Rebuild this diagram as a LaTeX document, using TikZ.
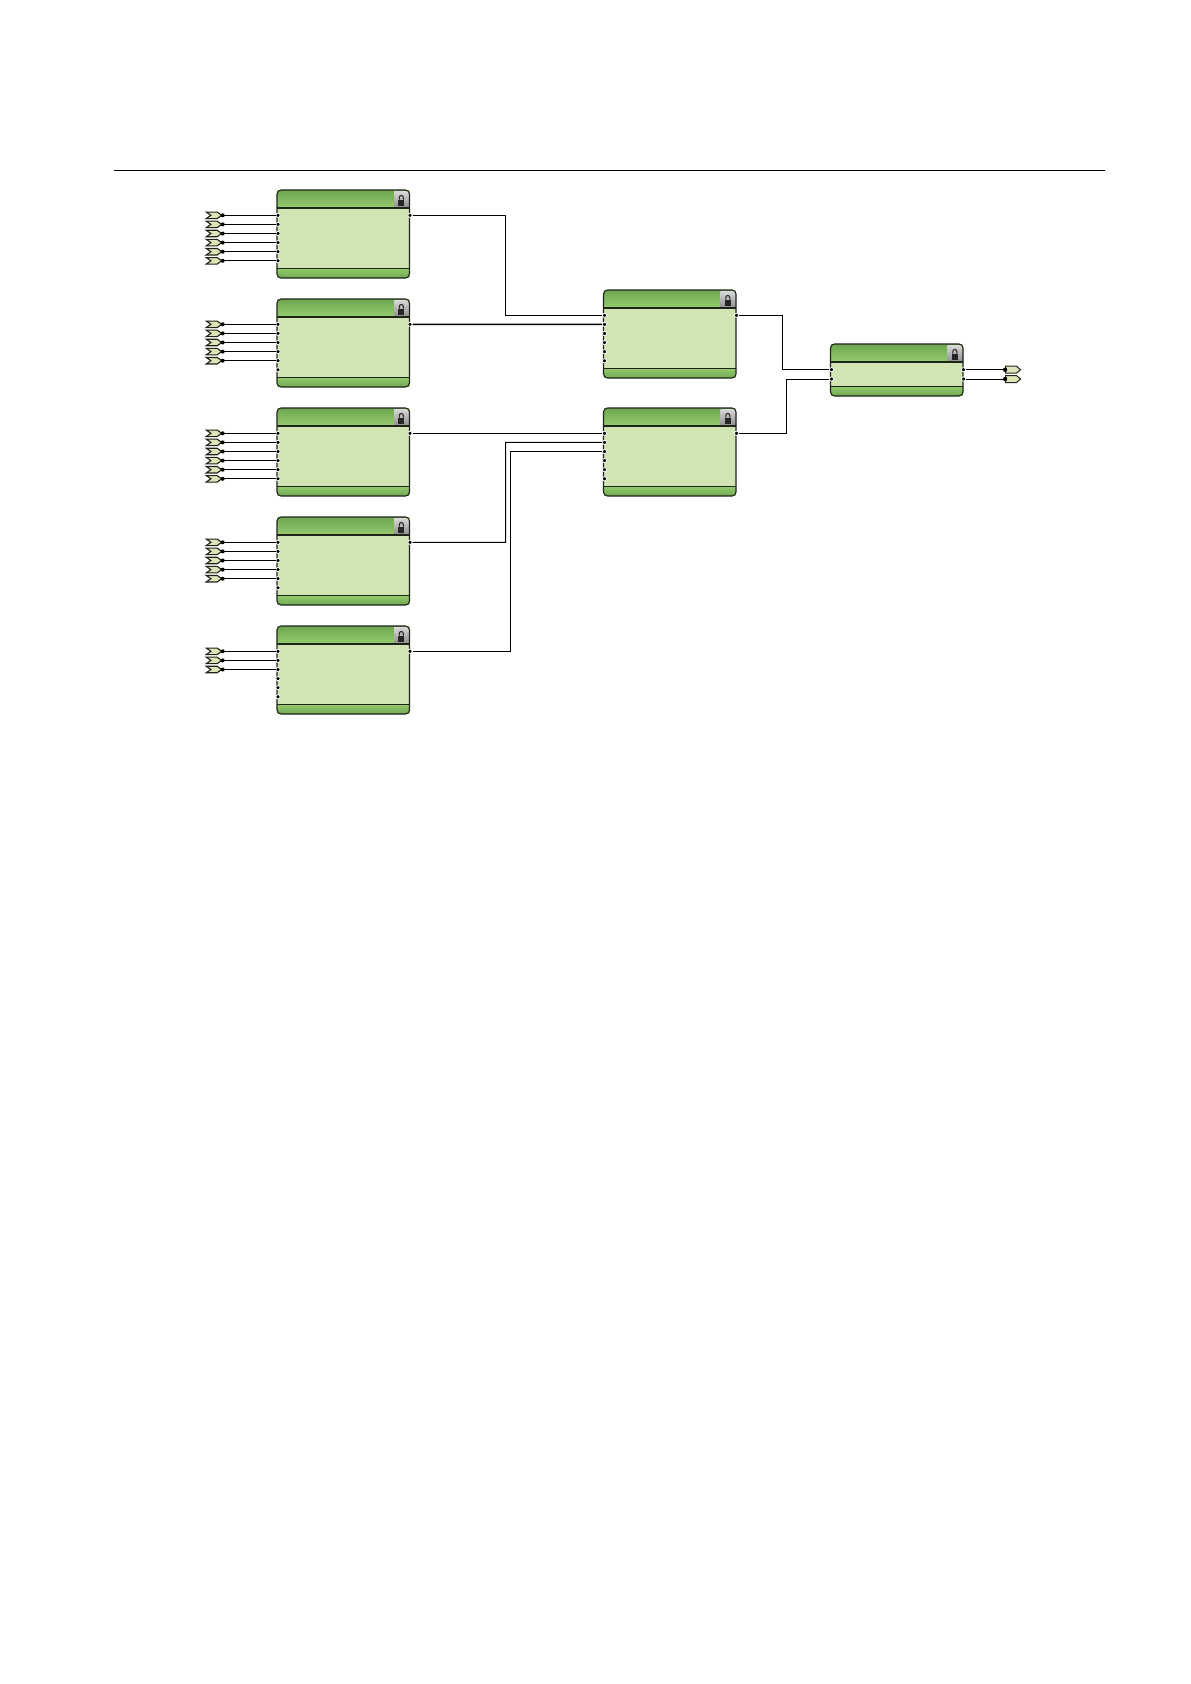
\documentclass[tikz,border=0pt]{standalone}
\usepackage{tikz}
\usetikzlibrary{shapes.symbols}
\definecolor{bodygreen}{HTML}{D0E4B4}
\definecolor{bargreen}{HTML}{96CC6E}
\definecolor{darkgreen}{HTML}{6BA450}
\definecolor{tagfill}{HTML}{DDE4B8}
\definecolor{edgedark}{HTML}{1E2418}
\tikzset{
  blockbox/.style={fill=bodygreen,minimum width=132.5pt,inner sep=0pt,outer sep=0pt,anchor=north west},
  blockedge/.style={draw=edgedark,line width=1.1pt,rounded corners=4pt},
  porthole/.style={circle,fill=black,draw=white,line width=0.8pt,minimum size=4.2pt,inner sep=0pt},
  intag/.style={signal,signal from=west,signal to=east,signal pointer angle=70,draw=edgedark,
    line width=1.1pt,fill=tagfill,minimum width=15.5pt,minimum height=6.5pt,inner sep=0pt},
  outtag/.style={signal,signal to=east,signal from=nowhere,signal pointer angle=80,draw=edgedark,
    line width=1pt,fill=tagfill,minimum width=15pt,minimum height=7pt,inner sep=0pt},
  wire/.style={line width=1pt,black},
  buswire/.style={line width=1.6pt,black}
}
\begin{document}
\begin{tikzpicture}[x=1pt,y=-1pt]
  \useasboundingbox (0,0) rectangle (1191,1684);
  \fill[white] (0,0) rectangle (1191,1684);
  \draw[line width=1pt] (114,170) -- (1105,170);
  % blocks: name, left, top, height
  \foreach \bname/\bx/\by/\bh in {ba/277/190/88,bb/277/299/88,bc/277/408/88,bd/277/517/88,be/277/626/88,
    ma/603.5/290/88,mb/603.5/408/88,ta/830.5/344/52}{
    \node[blockbox,minimum height=\bh pt] (\bname) at (\bx,\by) {};
    \begin{scope}
      \clip[rounded corners=4pt] (\bname.north west) rectangle (\bname.south east);
      \begin{scope}[shift={(\bx,\by)}]
        \shade[top color=darkgreen,bottom color=bargreen] (-1,-1) rectangle (134,18);
        \shade[top color=bargreen,bottom color=darkgreen] (-1,\bh-10) rectangle (134,\bh+1);
        \shade[top color=black!15,bottom color=black!45] (117,1) rectangle (134,18);
        \draw[line width=1.6pt,edgedark] (-1,18) -- (134,18);
        \draw[line width=0.9pt,edgedark] (-1,\bh-10) -- (134,\bh-10);
        \fill[black!85] (121.3,9.5) rectangle (127.3,15.5);
        \draw[black!85,line width=1.1pt] (122.3,9.5) -- (122.3,7.5)
          arc[start angle=180,end angle=0,x radius=2pt,y radius=2pt] -- (126.3,9.5);
      \end{scope}
    \end{scope}
    \draw[blockedge] (\bname.north west) rectangle (\bname.south east);
  }
  % ports
  \foreach \bname/\bx/\by in {ba/277/190,bb/277/299,bc/277/408,bd/277/517,be/277/626,ma/603.5/290,mb/603.5/408}{
    \foreach \i in {1,...,6}
      \node[porthole] (\bname-p\i) at (\bx+1,\by+25.3+9.1*\i-9.1) {};
    \node[porthole] (\bname-out) at (\bx+133,\by+25.3) {};
  }
  \node[porthole] (ta-p1) at (831.5,369.7) {};
  \node[porthole] (ta-p2) at (831.5,379) {};
  \node[porthole] (ta-o1) at (963.5,369.7) {};
  \node[porthole] (ta-o2) at (963.5,379) {};
  % input tags
  \foreach \bname/\by/\n/\m in {ba/190/6/0,bb/299/5/1,bc/408/6/1,bd/517/5/2,be/626/3/3}{
    \foreach \i in {1,...,\n}{
      \node[intag] (\bname-t\i) at (214,\by+25.3+9.1*\i-9.1) {};
      \ifnum\i>\m
        \draw[wire] (\bname-t\i.east) -- (\bname-p\i);
      \else
        \draw[buswire] (\bname-t\i.east) -- (\bname-p\i);
      \fi
      \fill (\bname-t\i.east) circle (2pt);
    }
  }
  % outputs
  \node[outtag] (out1) at (1011,369.7) {};
  \node[outtag] (out2) at (1011,379) {};
  \fill (out1.west) circle (2.2pt);
  \fill (out2.west) circle (2.2pt);
  \draw[wire] (ta-o1) -- (out1.west);
  \draw[wire] (ta-o2) -- (out2.west);
  % wires between blocks
  \draw[wire] (ba-out) -| (505.7,315.3) -- (ma-p1);
  \draw[buswire] (bb-out) -- (ma-p2);
  \draw[buswire] (bc-out) -- (mb-p1);
  \draw[wire] (bd-out) -| (505.7,442.4) -- (mb-p2);
  \draw[wire] (be-out) -| (510.3,451.5) -- (mb-p3);
  \draw[wire] (ma-out) -| (782.7,369.7) -- (ta-p1);
  \draw[wire] (mb-out) -| (786.7,379) -- (ta-p2);
\end{tikzpicture}
\end{document}
